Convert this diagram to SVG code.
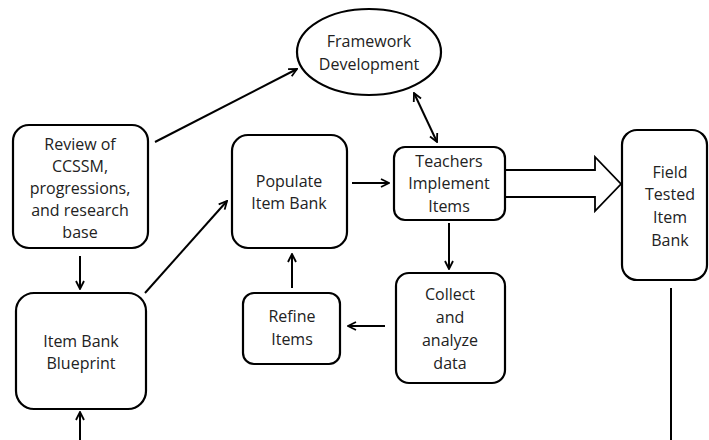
<svg xmlns="http://www.w3.org/2000/svg" width="709" height="440" viewBox="0 0 709 440">
<defs>
<marker id="ah" viewBox="0 0 10 10" refX="9" refY="5" markerWidth="10" markerHeight="10" markerUnits="userSpaceOnUse" orient="auto-start-reverse">
<path d="M1,1 L9,5 L1,9" fill="none" stroke="#000" stroke-width="1.8"/>
</marker>
<style>
.box{fill:#fff;stroke:#000;stroke-width:2.2}
.t{font-family:"Open Sans","Liberation Sans",sans-serif;font-size:16px;fill:#222;text-anchor:middle}
.c{stroke:#000;stroke-width:2;fill:none}
.a{marker-end:url(#ah)}
</style>
</defs>
<rect width="709" height="440" fill="#fff"/>
<g id="connectors">
<line class="c a" x1="80" y1="256" x2="80" y2="289"/>
<line class="c a" x1="80" y1="440" x2="80" y2="412"/>
<line class="c a" x1="155" y1="142" x2="297" y2="69"/>
<line class="c a" style="marker-start:url(#ah)" x1="414" y1="93" x2="437" y2="142"/>
<line class="c a" x1="352" y1="183" x2="389" y2="183"/>
<line class="c a" x1="449" y1="223" x2="449" y2="269"/>
<line class="c a" x1="385" y1="326" x2="348" y2="326"/>
<line class="c a" x1="292" y1="288" x2="292" y2="254"/>
<line class="c a" x1="145" y1="293" x2="227" y2="201"/>
<path class="c" d="M505,170 L595,170 L595,157 L621,184 L595,211 L595,197 L505,197" style="fill:#fff;stroke-width:1.8"/>
<line class="c" x1="671" y1="288" x2="671" y2="440"/>
</g>
<g id="framework">
<ellipse class="box" cx="369" cy="52" rx="72" ry="43"/>
<text class="t" x="369" y="47">Framework</text>
<text class="t" x="369" y="70">Development</text>
</g>
<g id="review">
<rect class="box" x="13" y="125" width="135" height="123" rx="16"/>
<text class="t" x="80" y="150">Review of</text>
<text class="t" x="80" y="172">CCSSM,</text>
<text class="t" x="80" y="194">progressions,</text>
<text class="t" x="80" y="216">and research</text>
<text class="t" x="80" y="238">base</text>
</g>
<g id="blueprint">
<rect class="box" x="16" y="293" width="130" height="116" rx="18"/>
<text class="t" x="81" y="347">Item Bank</text>
<text class="t" x="81" y="369">Blueprint</text>
</g>
<g id="populate">
<rect class="box" x="232" y="135" width="115" height="113" rx="16"/>
<text class="t" x="289" y="187">Populate</text>
<text class="t" x="289" y="209">Item Bank</text>
</g>
<g id="teachers">
<rect class="box" x="394" y="147" width="111" height="73" rx="11"/>
<text class="t" x="449" y="167">Teachers</text>
<text class="t" x="449" y="189">Implement</text>
<text class="t" x="449" y="212">Items</text>
</g>
<g id="collect">
<rect class="box" x="396" y="273" width="109" height="110" rx="13"/>
<text class="t" x="450" y="300">Collect</text>
<text class="t" x="450" y="323">and</text>
<text class="t" x="450" y="346">analyze</text>
<text class="t" x="450" y="369">data</text>
</g>
<g id="refine">
<rect class="box" x="243" y="293" width="97" height="71" rx="11"/>
<text class="t" x="292" y="322">Refine</text>
<text class="t" x="292" y="345">Items</text>
</g>
<g id="fieldtested">
<rect class="box" x="622" y="130" width="85" height="150" rx="15"/>
<text class="t" x="670" y="178">Field</text>
<text class="t" x="670" y="200">Tested</text>
<text class="t" x="670" y="223">Item</text>
<text class="t" x="670" y="246">Bank</text>
</g>
</svg>
